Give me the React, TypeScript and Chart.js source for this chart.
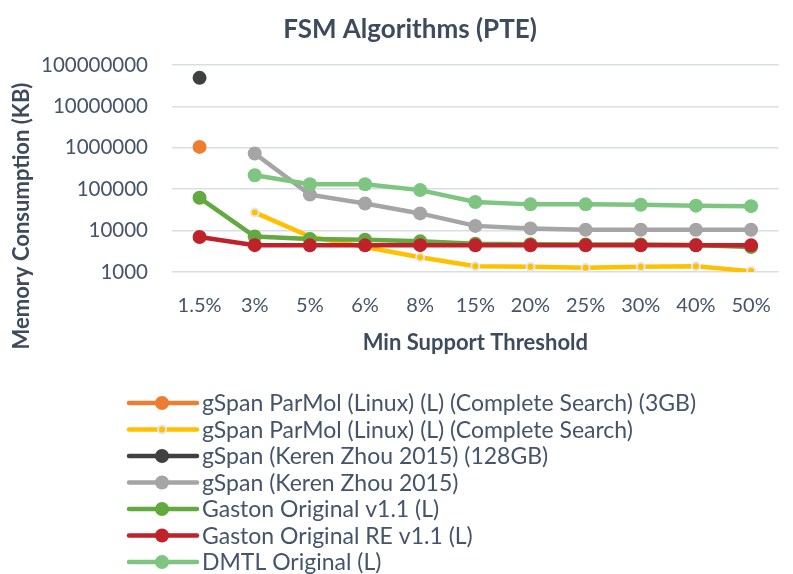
import React, { useEffect, useRef } from "react";
import { Chart, registerables } from "chart.js";
Chart.register(...registerables);

const categories = ["1.5%", "3%", "5%", "6%", "8%", "15%", "20%", "25%", "30%", "40%", "50%"];
const yTickValues = [1000, 10000, 100000, 1000000, 10000000, 100000000];

const titleText = "FSM Algorithms (PTE)";
const xTitleText = "Min Support Threshold";
const yTitleText = "Memory Consumption (KB)";

const seriesNames = [
  "gSpan ParMol (Linux) (L) (Complete Search) (3GB)",
  "gSpan ParMol (Linux) (L) (Complete Search)",
  "gSpan (Keren Zhou 2015) (128GB)",
  "gSpan (Keren Zhou 2015)",
  "Gaston Original v1.1 (L)",
  "Gaston Original RE v1.1 (L)",
  "DMTL Original (L)",
];
const seriesColors = ["#ED7D31", "#FFC000", "#404040", "#A5A5A5", "#62AA3F", "#C0222B", "#7DC580"];

const gspanParmol3GB = [1050000, null, null, null, null, null, null, null, null, null, null];
const gspanParmol = [null, 27500, 7200, 4000, 2270, 1380, 1330, 1270, 1330, 1380, 1050];
const gspanKZ128GB = [49000000, null, null, null, null, null, null, null, null, null, null];
const gspanKZ = [null, 730000, 74000, 45000, 26000, 13000, 11300, 10500, 10500, 10500, 10500];
const gaston = [62000, 7200, 6300, 6000, 5500, 4800, 4700, 4600, 4600, 4500, 4000];
const gastonRE = [7000, 4450, 4400, 4400, 4450, 4400, 4400, 4400, 4400, 4400, 4400];
const dmtl = [null, 217000, 132000, 132000, 95000, 49000, 43000, 43000, 42000, 40000, 39000];

const seriesData = [gspanParmol3GB, gspanParmol, gspanKZ128GB, gspanKZ, gaston, gastonRE, dmtl];

const FONT = "Lato, 'Open Sans', sans-serif";
const TEXT = "#44546A";
const TITLE = "#3E4B5C";

const textPlugin = {
  id: "customText",
  afterDraw(chart: any) {
    const ctx = chart.ctx;
    const area = chart.chartArea;
    ctx.save();
    ctx.fillStyle = TITLE;
    ctx.textAlign = "center";
    ctx.textBaseline = "middle";
    ctx.font = `bold 26px ${FONT}`;
    ctx.fillText(titleText, 410, 30);
    ctx.font = `bold 22px ${FONT}`;
    ctx.fillText(xTitleText, (area.left + area.right) / 2, 343);
    ctx.save();
    ctx.translate(22, 216);
    ctx.rotate(-Math.PI / 2);
    ctx.fillText(yTitleText, 0, 0);
    ctx.restore();

    // legend
    const ds = chart.data.datasets;
    ctx.font = `23px ${FONT}`;
    ctx.textAlign = "left";
    for (let i = 0; i < ds.length; i++) {
      const y = 403 + i * 26.5;
      const d = ds[i];
      ctx.strokeStyle = d.borderColor;
      ctx.lineWidth = 4.5;
      ctx.lineCap = "round";
      ctx.beginPath();
      ctx.moveTo(129, y);
      ctx.lineTo(197, y);
      ctx.stroke();
      ctx.beginPath();
      ctx.arc(162, y, d.pointRadius, 0, Math.PI * 2);
      ctx.fillStyle = d.pointBackgroundColor;
      ctx.fill();
      if (d.pointBorderWidth > 0) {
        ctx.lineWidth = d.pointBorderWidth;
        ctx.strokeStyle = d.pointBorderColor;
        ctx.stroke();
      }
      ctx.fillStyle = TEXT;
      ctx.fillText(d.label, 202, y + 1);
    }
    ctx.restore();
  },
};

export default function App() {
  const canvasRef = useRef<HTMLCanvasElement | null>(null);
  useEffect(() => {
    document.body.style.margin = "0";
    const canvas = canvasRef.current;
    if (!canvas) return;
    const n = seriesNames.length;
    const datasets = seriesNames.map((name, i) => {
      const isYellow = i === 1;
      return {
        label: name,
        data: seriesData[i],
        borderColor: seriesColors[i],
        backgroundColor: seriesColors[i],
        pointBackgroundColor: seriesColors[i],
        pointBorderColor: isYellow ? "#E6E6E6" : seriesColors[i],
        pointBorderWidth: isYellow ? 2 : 0,
        pointRadius: isYellow ? 4 : 7,
        borderWidth: 4.5,
        tension: 0,
        spanGaps: false,
        order: n - i,
      };
    });
    const chart = new Chart(canvas, {
      type: "line",
      data: { labels: categories, datasets },
      plugins: [textPlugin],
      options: {
        animation: false,
        responsive: false,
        maintainAspectRatio: false,
        layout: { padding: { top: 65, right: 0, left: 0, bottom: 0 } },
        plugins: { legend: { display: false }, title: { display: false }, tooltip: { enabled: false } },
        scales: {
          x: {
            type: "category",
            offset: true,
            grid: { display: false, drawTicks: false },
            border: { display: false },
            ticks: { color: TEXT, font: { family: FONT, size: 20 }, padding: 22, maxRotation: 0, autoSkip: false },
            afterFit(scale: any) {
              scale.height = 302;
            },
          },
          y: {
            type: "logarithmic",
            min: yTickValues[0],
            max: yTickValues[yTickValues.length - 1],
            grid: { color: "#D9DEE6", lineWidth: 1.5, drawTicks: false },
            border: { display: false },
            afterBuildTicks(scale: any) {
              scale.ticks = yTickValues.map((v) => ({ value: v }));
            },
            ticks: {
              color: TEXT,
              font: { family: FONT, size: 20.5 },
              padding: 24,
              callback: (v: any) => String(v),
            },
            afterFit(scale: any) {
              scale.width = 172;
            },
          },
        },
      },
    });
    return () => chart.destroy();
  }, []);
  return (
    <div style={{ width: 793, height: 574, background: "#fff" }}>
      <canvas ref={canvasRef} width={793} height={574} style={{ width: 793, height: 574, display: "block" }} />
    </div>
  );
}
